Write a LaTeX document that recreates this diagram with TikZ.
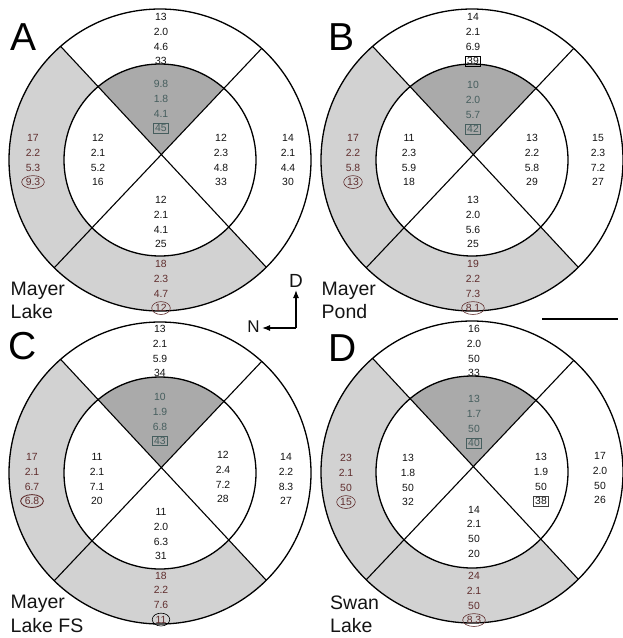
\documentclass[tikz,border=0pt]{standalone}
\usepackage{fontspec}
\setmainfont{Liberation Sans}
\usetikzlibrary{arrows.meta,shapes.geometric,calc}

\definecolor{inkc}{RGB}{20,20,20}
\definecolor{ringfill}{RGB}{210,210,210}
\definecolor{sectorfill}{RGB}{170,170,170}
\definecolor{rust}{RGB}{96,46,46}
\definecolor{tealgray}{RGB}{70,94,94}

\tikzset{
  val/.style={font=\fontsize{10.4}{12}\selectfont, inner sep=0pt,
              text height=7.5pt, text depth=0pt, anchor=center, text=inkc},
  boxed/.style={draw, inner xsep=2pt, inner ysep=1.1pt, line width=0.6pt},
  ringed/.style={ellipse, draw, inner sep=0.8pt, line width=0.6pt},
  rim/.style={line width=1.3pt, draw=black},
  divider/.style={line width=1.1pt, draw=black},
  panelletter/.style={font=\fontsize{39}{39}\selectfont, inner sep=0pt, anchor=base west},
  sitename/.style={font=\fontsize{19.5}{23}\selectfont, inner sep=0pt, anchor=base west, text=inkc},
  compass/.style={font=\fontsize{19}{19}\selectfont, inner sep=0pt, text=inkc},
  pointer/.style={line width=1.2pt, -{Latex[length=8pt,width=6pt]}},
}

% One sampling disc: outer ring, inner disc, two crossing dividers,
% shaded outer sectors (left and bottom) and shaded inner top sector.
\newcommand\disc[3]{%
  \begin{scope}[shift={(#2,#3)}]
    \coordinate (#1ul) at (-99.4,-113.7);
    \coordinate (#1ur) at (101.7,-111.6);
    \coordinate (#1ll) at (-105.8,107.8);
    \coordinate (#1lr) at (106.3,107.3);
    \coordinate (#1x) at (intersection of #1ul--#1lr and #1ur--#1ll);
    \begin{scope}
      \clip (#1x) -- ($(#1x)!2!(#1ul)$) -- (-400,400) -- ($(#1x)!2!(#1lr)$) -- cycle;
      \fill[ringfill, even odd rule] (0,0) circle[radius=151pt] (0,0) circle[radius=96pt];
    \end{scope}
    \begin{scope}
      \clip (#1x) -- ($(#1x)!2!(#1ul)$) -- ($(#1x)!2!(#1ur)$) -- cycle;
      \fill[sectorfill] (0,0) circle[radius=96pt];
    \end{scope}
    \draw[divider] (#1ul) -- (#1lr) (#1ur) -- (#1ll);
    \draw[rim] (0,0) circle[radius=151pt] (0,0) circle[radius=96pt];
  \end{scope}}

% A column of four values centred at (x,y); the fourth may be boxed or ringed.
\newcommand\blk[9]{%
  \node[val,text=#4] (#1-1) at (#2,#3-22.05) {#5};
  \node[val,text=#4] (#1-2) at (#2,#3-7.35) {#6};
  \node[val,text=#4] (#1-3) at (#2,#3+7.35) {#7};
  \node[val,text=#4,#9] (#1-4) at (#2,#3+22.05) {#8};}

\begin{document}
\begin{tikzpicture}[x=1pt,y=-1pt]
  \useasboundingbox[fill=white] (0,0) rectangle (622,638);

  % ---------- A: Mayer Lake ----------
  \disc{a}{160}{160}
  \begin{scope}[shift={(160,160)}]
    \blk{a-to}{1}{-121}{inkc}{13}{2.0}{4.6}{33}{}
    \blk{a-ti}{1}{-54}{tealgray}{9.8}{1.8}{4.1}{45}{boxed,draw=tealgray}
    \blk{a-lo}{-127}{0}{rust}{17}{2.2}{5.3}{9.3}{ringed,draw=rust}
    \blk{a-li}{-62}{0}{inkc}{12}{2.1}{5.2}{16}{}
    \blk{a-ri}{61}{0}{inkc}{12}{2.3}{4.8}{33}{}
    \blk{a-ro}{128}{0}{inkc}{14}{2.1}{4.4}{30}{}
    \blk{a-bi}{1}{62}{inkc}{12}{2.1}{4.1}{25}{}
    \blk{a-bo}{1}{126}{rust}{18}{2.3}{4.7}{12}{ringed,draw=rust}
  \end{scope}
  \node[panelletter] (a-letter) at (10,50) {A};
  \node[sitename] (a-name1) at (10.5,295) {Mayer};
  \node[sitename] (a-name2) at (10.5,318) {Lake};

  % ---------- B: Mayer Pond ----------
  \disc{b}{472}{160}
  \begin{scope}[shift={(472,160)}]
    \blk{b-to}{1}{-121}{inkc}{14}{2.1}{6.9}{39}{boxed}
    \blk{b-ti}{1}{-53}{tealgray}{10}{2.0}{5.7}{42}{boxed,draw=tealgray}
    \blk{b-lo}{-119}{0}{rust}{17}{2.2}{5.8}{13}{ringed,draw=rust}
    \blk{b-li}{-63}{0}{inkc}{11}{2.3}{5.9}{18}{}
    \blk{b-ri}{60}{0}{inkc}{13}{2.2}{5.8}{29}{}
    \blk{b-ro}{126}{0}{inkc}{15}{2.3}{7.2}{27}{}
    \blk{b-bi}{1}{62}{inkc}{13}{2.0}{5.6}{25}{}
    \blk{b-bo}{1}{126}{rust}{19}{2.2}{7.3}{8.1}{ringed,draw=rust}
  \end{scope}
  \node[panelletter] (b-letter) at (328,50) {B};
  \node[sitename] (b-name1) at (321.5,295) {Mayer};
  \node[sitename] (b-name2) at (321.5,318) {Pond};

  % ---------- C: Mayer Lake FS ----------
  \disc{c}{160}{473}
  \begin{scope}[shift={(160,473)}]
    \blk{c-to}{0}{-122}{inkc}{13}{2.1}{5.9}{34}{}
    \blk{c-ti}{0}{-54}{tealgray}{10}{1.9}{6.8}{43}{boxed,draw=tealgray,line width=0.9pt}
    \blk{c-lo}{-128}{6}{rust}{17}{2.1}{6.7}{6.8}{ringed,draw=rust,line width=0.9pt}
    \blk{c-li}{-63}{6}{inkc}{11}{2.1}{7.1}{20}{}
    \blk{c-ri}{63}{4}{inkc}{12}{2.4}{7.2}{28}{}
    \blk{c-ro}{126}{6}{inkc}{14}{2.2}{8.3}{27}{}
    \blk{c-bi}{1}{61}{inkc}{11}{2.0}{6.3}{31}{}
    \blk{c-bo}{1}{124.5}{rust}{18}{2.2}{7.6}{11}{ringed,draw=black}
  \end{scope}
  \node[panelletter] (c-letter) at (8,359) {C};
  \node[sitename] (c-name1) at (10.5,608) {Mayer};
  \node[sitename] (c-name2) at (10.5,632) {Lake FS};

  % ---------- D: Swan Lake ----------
  \disc{d}{472}{472}
  \begin{scope}[shift={(472,472)}]
    \blk{d-to}{2}{-121}{inkc}{16}{2.0}{50}{33}{}
    \blk{d-ti}{2}{-51}{tealgray}{13}{1.7}{50}{40}{boxed,draw=tealgray}
    \blk{d-lo}{-126}{8}{rust}{23}{2.1}{50}{15}{ringed,draw=rust}
    \blk{d-li}{-64}{8}{inkc}{13}{1.8}{50}{32}{}
    \blk{d-ri}{69}{7}{inkc}{13}{1.9}{50}{38}{boxed,draw=black!75}
    \blk{d-ro}{128}{6}{inkc}{17}{2.0}{50}{26}{}
    \blk{d-bi}{2}{59.5}{inkc}{14}{2.1}{50}{20}{}
    \blk{d-bo}{2}{126}{rust}{24}{2.1}{50}{8.3}{ringed,draw=rust}
  \end{scope}
  \node[panelletter] (d-letter) at (328,361) {D};
  \node[sitename] (d-name1) at (330,609) {Swan};
  \node[sitename] (d-name2) at (330,632) {Lake};

  % ---------- orientation marker ----------
  \coordinate (corner) at (296,328);
  \coordinate (tipD) at (296,290);
  \coordinate (tipN) at (262,328);
  \node[compass] (dirD) at (296,281) {D};
  \node[compass,font=\fontsize{17}{17}\selectfont] (dirN) at (253.5,327) {N};
  \draw[pointer] (corner) -- (tipD);
  \draw[pointer] (corner) -- (tipN);

  % ---------- scale bar ----------
  \coordinate (bar1) at (542,319);
  \coordinate (bar2) at (618,319);
  \draw[line width=2pt] (bar1) -- (bar2);
\end{tikzpicture}
\end{document}
